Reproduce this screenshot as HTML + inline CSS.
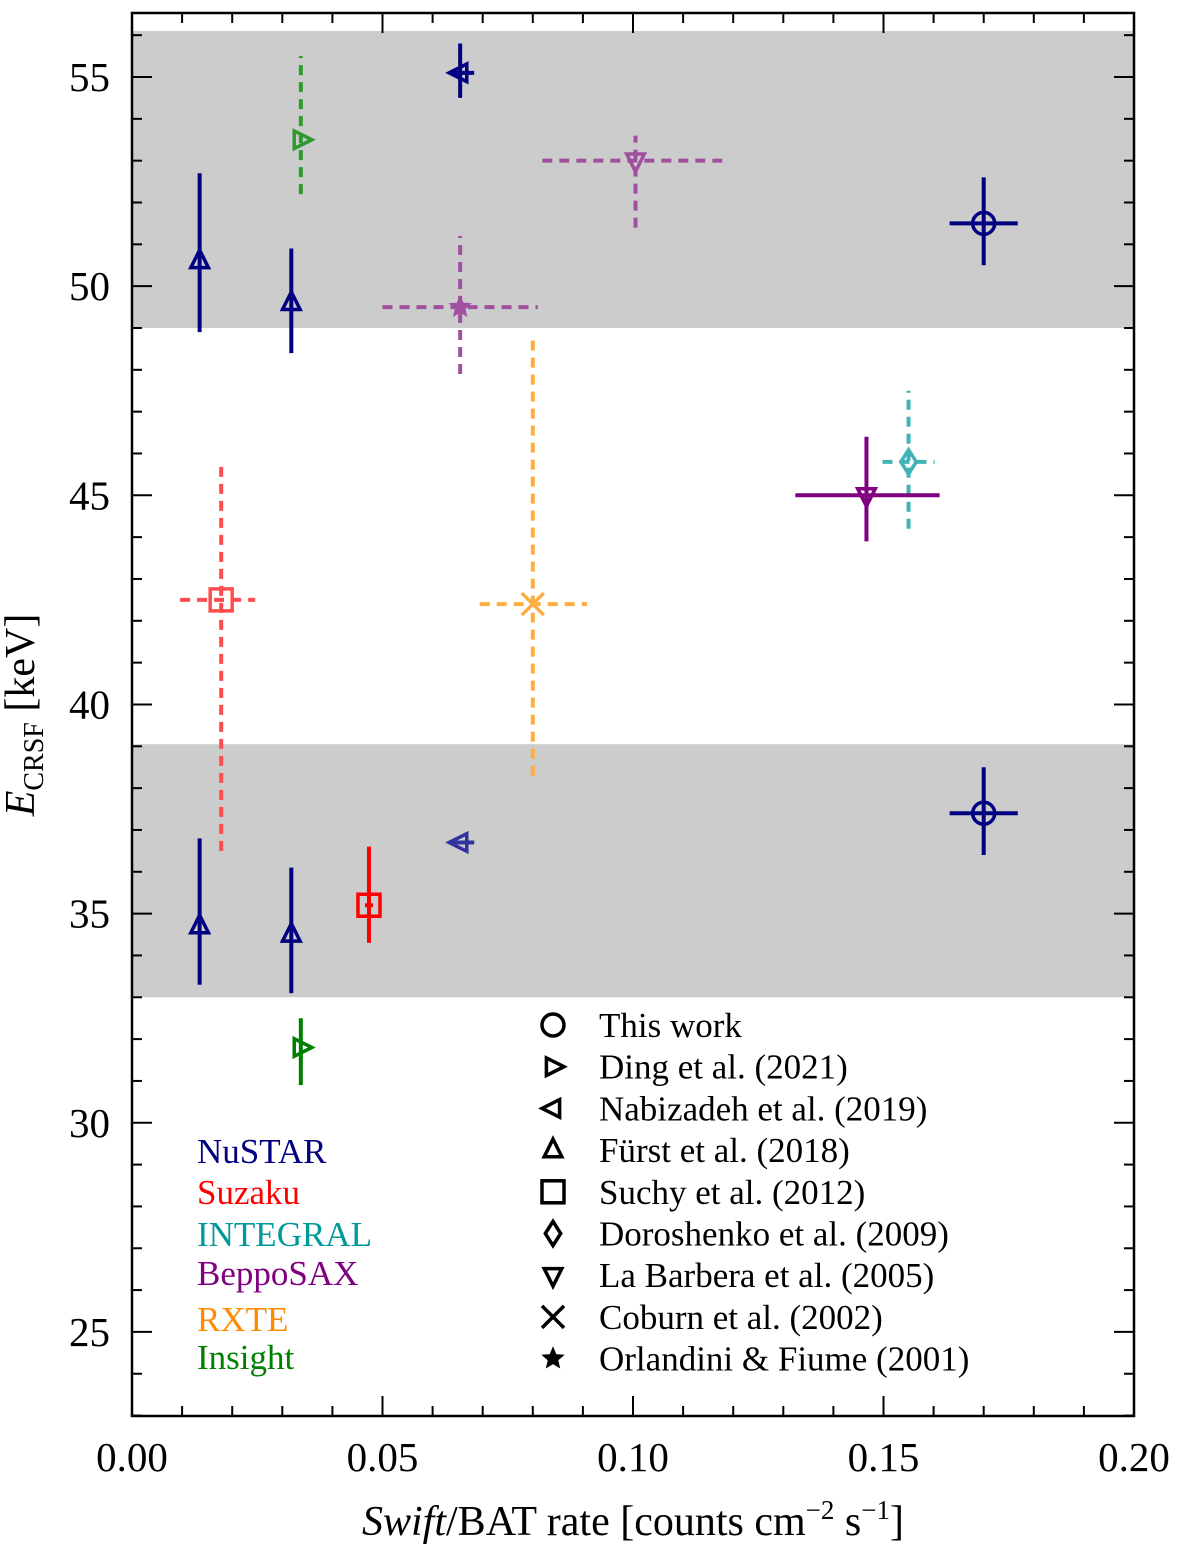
<!DOCTYPE html>
<html><head><meta charset="utf-8"><style>
body{margin:0;background:#fff;}
svg{display:block;font-family:"Liberation Serif",serif;}
</style></head><body>
<svg id="chart" width="1200" height="1544" xmlns="http://www.w3.org/2000/svg"></svg>
<script>
// ---- data ----
const xTicks=[0,0.05,0.10,0.15,0.20];
const xTickLabels=["0.00","0.05","0.10","0.15","0.20"];
const yTicks=[25,30,35,40,45,50,55];
const bands=[[49,56.1],[33,39.05]];
const ptNames=["this-work-high","this-work-low","fuerst-1-high","fuerst-1-low","fuerst-2-high","fuerst-2-low","nabizadeh-high","nabizadeh-low","ding-high","ding-low","suchy-dashed","suchy-solid","doroshenko","labarbera-solid","labarbera-dashed","orlandini","coburn"];
const ptX=[0.17,0.17,0.0135,0.0135,0.0318,0.0318,0.0655,0.0655,0.0337,0.0337,0.0178,0.0473,0.155,0.1466,0.1005,0.0655,0.08];
const ptXLo=[0.0068,0.0068,0,0,0,0,0.002,0.002,0,0,0.0082,0.0008,0.0052,0.0142,0.0186,0.0155,0.0106];
const ptXHi=[0.0068,0.0068,0,0,0,0,0.0028,0.0028,0,0,0.0068,0.0008,0.0052,0.0146,0.0176,0.0155,0.0108];
const ptY=[51.5,37.4,50.6,34.7,49.6,34.5,55.1,36.7,53.5,31.8,42.5,35.2,45.8,45.0,53.0,49.5,42.4];
const ptYLo=[1.0,1.0,1.7,1.4,1.2,1.4,0.6,0,1.3,0.9,6.0,0.9,1.6,1.1,1.6,1.6,4.1];
const ptYHi=[1.1,1.1,2.1,2.1,1.3,1.6,0.7,0,2.0,0.7,3.2,1.4,1.7,1.4,0.6,1.7,6.3];
const ptMarker=["o","o","^","^","^","^","<","<",">",">","s","s","d","v","v","*","x"];
const ptColor=["#000080","#000080","#000080","#000080","#000080","#000080","#000080","#3333a0","#2e9a2e","#008000","#ff4d4d","#ff0000","#40b4b4","#800080","#a050a0","#a050a0","#ffad40"];
const ptDashed=[0,0,0,0,0,0,0,0,1,0,1,0,1,0,1,1,1];
const legendMarkers=["o",">","<","^","s","d","v","x","*"];
const legendLabels=["This work","Ding et al. (2021)","Nabizadeh et al. (2019)","Fürst et al. (2018)","Suchy et al. (2012)","Doroshenko et al. (2009)","La Barbera et al. (2005)","Coburn et al. (2002)","Orlandini & Fiume (2001)"];
const instLabels=["NuSTAR","Suzaku","INTEGRAL","BeppoSAX","RXTE","Insight"];
const instColors=["#000080","#ff0000","#009999","#800080","#ff8c00","#008000"];
// ---- axes ----
const L=132,R=1134,T=13,B=1416,X0=0,X1=0.2,Y0=22.99,Y1=56.53;
const sx=v=>L+(v-X0)/(X1-X0)*(R-L);
const sy=v=>B-(v-Y0)/(Y1-Y0)*(B-T);
const svg=document.getElementById('chart');
const NS="http://www.w3.org/2000/svg";
function el(tag,attrs,parent){const e=document.createElementNS(NS,tag);for(const k in attrs)e.setAttribute(k,attrs[k]);(parent||svg).appendChild(e);return e;}
bands.forEach((b,i)=>{
  const r=el('rect',{x:L,y:sy(b[1]),width:R-L,height:sy(b[0])-sy(b[1]),fill:'#cccccc'});
  
  
});
const tg=el('g',{stroke:'#000','stroke-width':2});


for(let i=0;i<=20;i++){const v=i*0.01,x=sx(v),len=i%5===0?20:10;
  el('line',{x1:x,x2:x,y1:B,y2:B-len},tg);el('line',{x1:x,x2:x,y1:T,y2:T+len},tg);}
for(let v=23;v<=56;v++){const y=sy(v),len=v%5===0?20:10;
  el('line',{x1:L,x2:L+len,y1:y,y2:y},tg);el('line',{x1:R,x2:R-len,y1:y,y2:y},tg);}
const frame=el('rect',{x:L,y:T,width:R-L,height:B-T,fill:'none',stroke:'#000','stroke-width':2.5});


xTicks.forEach((v,i)=>{const t=el('text',{x:sx(v),y:1471,'font-size':41,'text-anchor':'middle'});t.textContent=xTickLabels[i];
  
  });
yTicks.forEach(v=>{const t=el('text',{x:110,y:sy(v)+14,'font-size':41,'text-anchor':'end'});t.textContent=v;
  
  });
const xt=el('text',{x:633,y:1535,'font-size':42,'text-anchor':'middle'});
xt.innerHTML='<tspan font-style="italic">Swift</tspan>/BAT rate [counts cm<tspan dy="-16" font-size="27">−2</tspan><tspan dy="16"> s</tspan><tspan dy="-16" font-size="27">−1</tspan><tspan dy="16">]</tspan>';


const yt=el('text',{transform:'translate(34,715) rotate(-90)','font-size':42,'text-anchor':'middle'});
yt.innerHTML='<tspan font-style="italic">E</tspan><tspan font-size="28" dy="9">CRSF</tspan><tspan dy="-9"> [keV]</tspan>';


function marker(g,m,x,y,c,s){
  const a={fill:'none',stroke:c,'stroke-width':3.5};
  const h=s/2;
  if(m==='o')el('circle',Object.assign({cx:x,cy:y,r:h},a),g);
  else if(m==='s')el('rect',Object.assign({x:x-h,y:y-h,width:s,height:s},a),g);
  else if(m==='d')el('polygon',Object.assign({points:`${x},${y-h*1.1} ${x+h*0.7},${y} ${x},${y+h*1.1} ${x-h*0.7},${y}`},a),g);
  else if(m==='^')el('polygon',Object.assign({points:`${x},${y-h} ${x+h*0.8},${y+h*0.6} ${x-h*0.8},${y+h*0.6}`},a),g);
  else if(m==='v')el('polygon',Object.assign({points:`${x},${y+h} ${x+h*0.8},${y-h*0.6} ${x-h*0.8},${y-h*0.6}`},a),g);
  else if(m==='>')el('polygon',Object.assign({points:`${x+h},${y} ${x-h*0.6},${y-h*0.8} ${x-h*0.6},${y+h*0.8}`},a),g);
  else if(m==='<')el('polygon',Object.assign({points:`${x-h},${y} ${x+h*0.6},${y-h*0.8} ${x+h*0.6},${y+h*0.8}`},a),g);
  else if(m==='x'){el('line',Object.assign({x1:x-h,y1:y-h,x2:x+h,y2:y+h},a),g);el('line',Object.assign({x1:x-h,y1:y+h,x2:x+h,y2:y-h},a),g);}
  else if(m==='*'){let p='';for(let k=0;k<10;k++){const r=k%2?h*0.45:h,an=-Math.PI/2+k*Math.PI/5;p+=`${x+r*Math.cos(an)},${y+r*Math.sin(an)} `;}
    el('polygon',{points:p,fill:c,stroke:c,'stroke-width':1},g);}
}
ptX.forEach((v,i)=>{
  const g=el('g',{});
  
  
  const c=ptColor[i],d=ptDashed[i]?'10,7':'none';
  const x=sx(v),y=sy(ptY[i]);
  if(ptYLo[i]||ptYHi[i])el('line',{x1:x,x2:x,y1:sy(ptY[i]-ptYLo[i]),y2:sy(ptY[i]+ptYHi[i]),stroke:c,'stroke-width':4,'stroke-dasharray':d},g);
  if(ptXLo[i]||ptXHi[i])el('line',{x1:sx(v-ptXLo[i]),x2:sx(v+ptXHi[i]),y1:y,y2:y,stroke:c,'stroke-width':4,'stroke-dasharray':d},g);
  marker(g,ptMarker[i],x,y,c,22);
});
legendLabels.forEach((lab,i)=>{
  const g=el('g',{});
  
  
  const y=1025+i*41.7;
  marker(g,legendMarkers[i],553,y,'#000',22);
  const t=el('text',{x:599,y:y+12,'font-size':35},g);t.textContent=lab;
});
instLabels.forEach((lab,i)=>{
  const t=el('text',{x:197,y:[1163,1204,1246,1285,1331,1369][i],'font-size':35,fill:instColors[i]});
  t.textContent=lab;
  
  
});
</script>
</body></html>
